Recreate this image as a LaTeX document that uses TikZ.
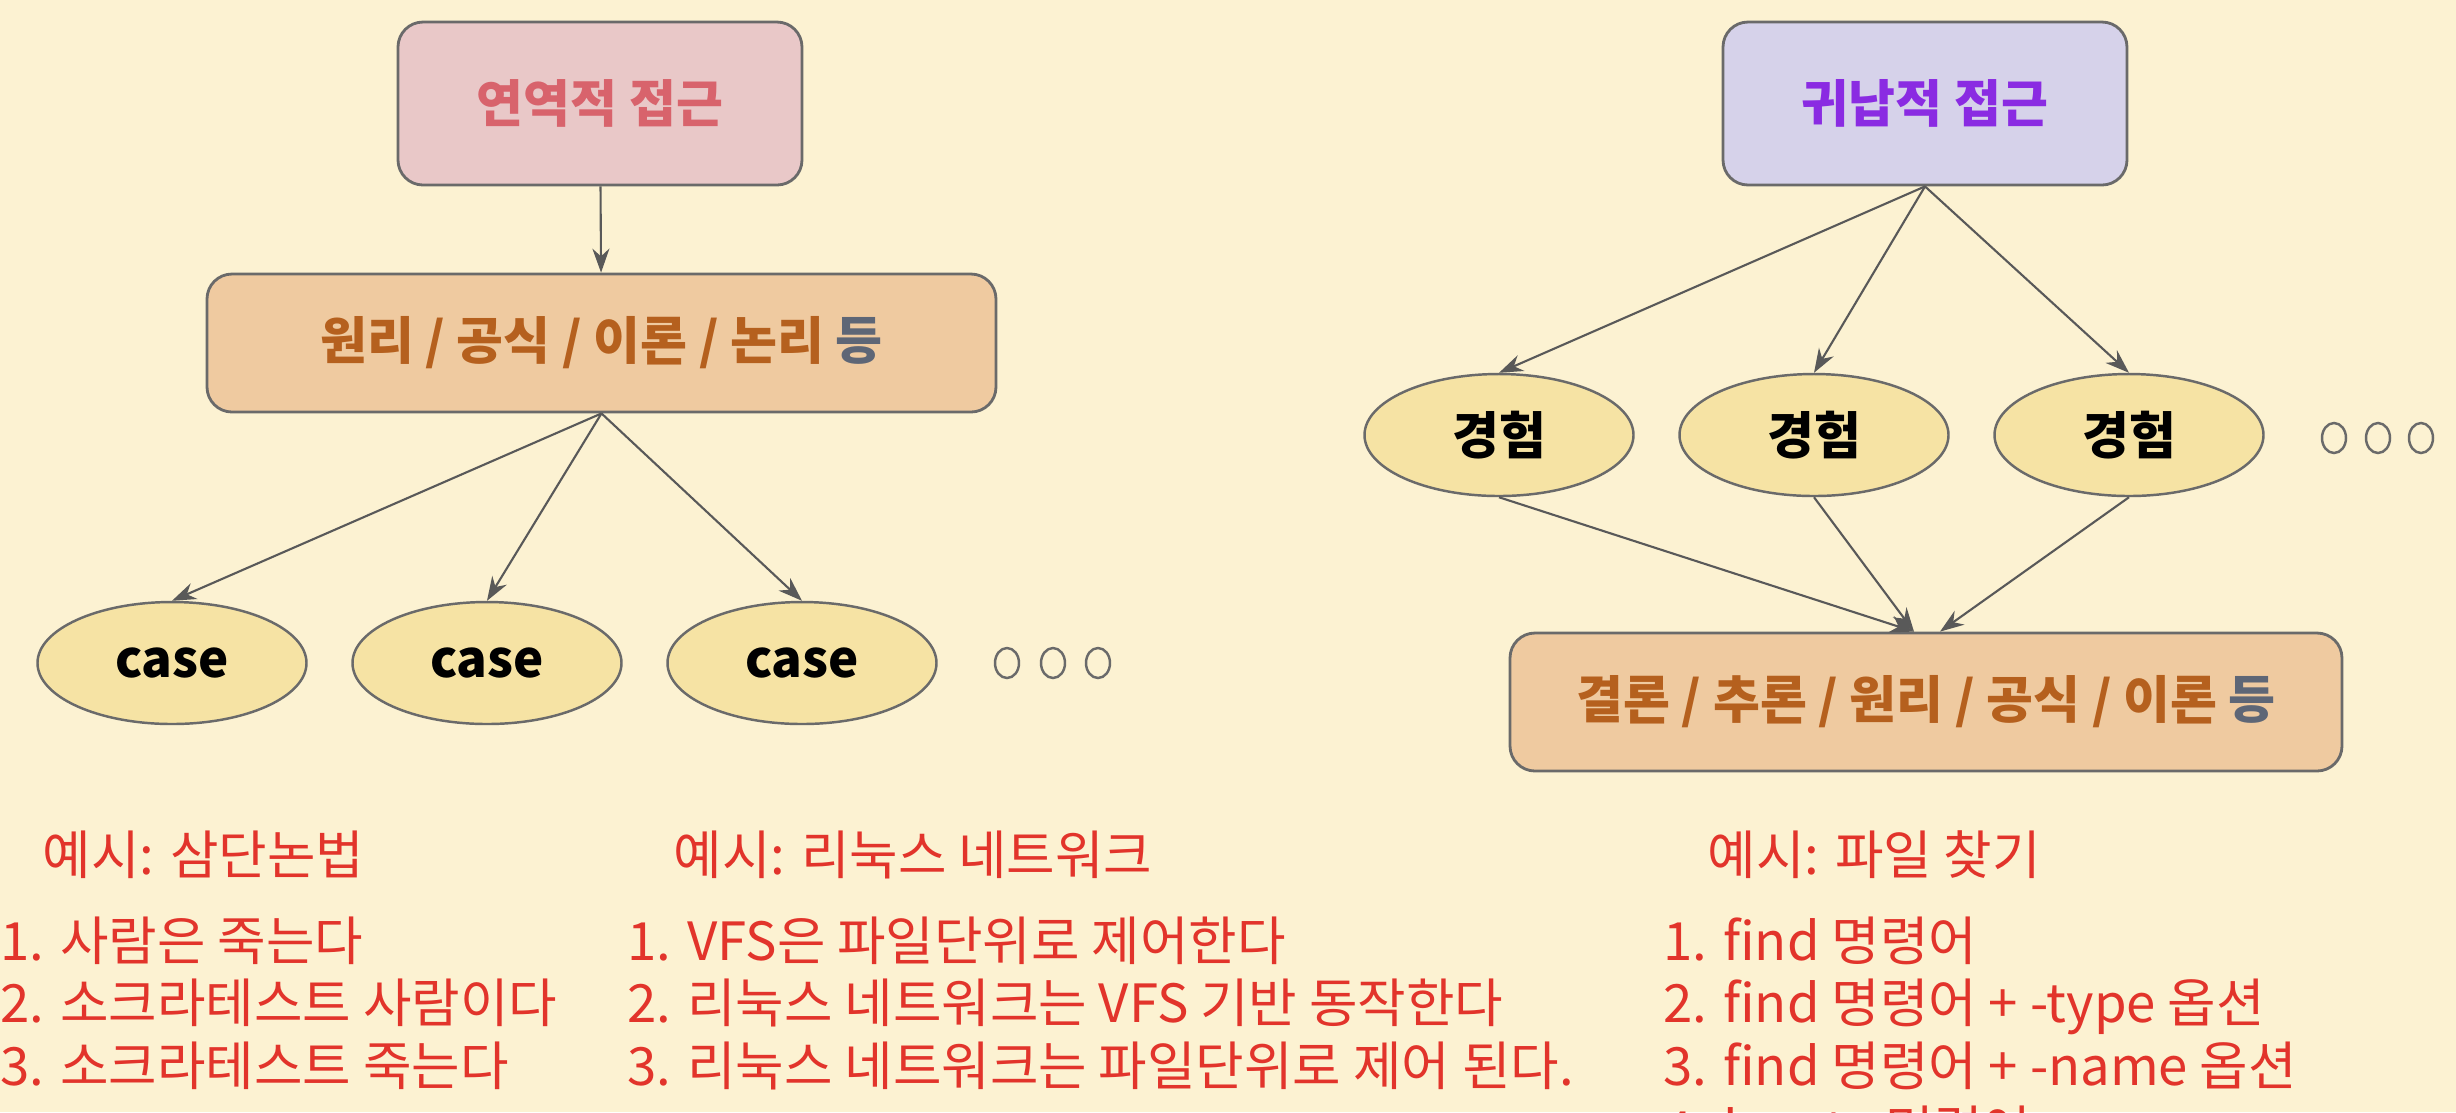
\documentclass[tikz,border=0pt]{standalone}
\usepackage{fontspec}
\setmainfont{Noto Sans CJK KR}
\usepackage{tikz}
\usetikzlibrary{shapes.geometric,arrows.meta}
\definecolor{bgcream}{HTML}{FCF2D2}
\definecolor{linegray}{HTML}{6A6A6A}
\definecolor{arrowgray}{HTML}{595959}
\definecolor{pinkfill}{HTML}{E9C8C8}
\definecolor{pinktext}{HTML}{D8636C}
\definecolor{peachfill}{HTML}{EFCAA0}
\definecolor{browntext}{HTML}{B5601E}
\definecolor{dunggray}{HTML}{5E6676}
\definecolor{lavfill}{HTML}{D6D2EA}
\definecolor{purpletext}{HTML}{8A2BE2}
\definecolor{ovalfill}{HTML}{F6E3A4}
\definecolor{exred}{HTML}{E2342B}

\tikzset{
  topbox/.style={draw=linegray,line width=0.8pt,rounded corners=2.5mm,
    minimum width=40.4mm,minimum height=16.3mm,
    font=\fontsize{14.5pt}{17pt}\selectfont\bfseries},
  widebox/.style={topbox,fill=peachfill,text=browntext,minimum height=13.8mm},
  caseoval/.style={ellipse,draw=linegray,line width=0.7pt,fill=ovalfill,
    minimum width=26.9mm,minimum height=12.2mm,inner sep=0pt,
    font=\fontsize{14.5pt}{17pt}\selectfont\bfseries},
  link/.style={->,draw=arrowgray,line width=0.6pt},
  example/.style={anchor=west,inner sep=0pt,text=exred,
    text height=0.85em,text depth=0.15em}
}

\begin{document}
\begin{tikzpicture}[x=0.1mm,y=-0.1mm,font=\fontsize{15pt}{18pt}\selectfont,
  >={Stealth[length=2.4mm,width=1.7mm]}]
  \useasboundingbox (0,0) rectangle (2456,1112);
  \clip (0,0) rectangle (2456,1112);
  \fill[bgcream] (0,0) rectangle (2456,1112);

  % deductive side
  \node[topbox,fill=pinkfill,text=pinktext] (deduct) at (600,103.5) {연역적 접근};
  \node[widebox,minimum width=78.9mm] (principle) at (601.5,343)
    {원리 / 공식 / 이론 / 논리 {\color{dunggray}등}};
  \foreach \i/\x in {1/172,2/487,3/802}
    \node[caseoval] (case\i) at (\x,663) {case};
  \foreach \x in {1007,1053,1098}
    \draw[linegray,line width=0.7pt] (\x,663) ellipse [x radius=12,y radius=15];
  \draw[link] (deduct) -- (principle);
  \foreach \i in {1,2,3}
    \draw[link] (principle.south) -- (case\i.north);

  % inductive side
  \node[topbox,fill=lavfill,text=purpletext] (induct) at (1925,103.5) {귀납적 접근};
  \foreach \i/\x in {1/1499,2/1814,3/2129}
    \node[caseoval] (exp\i) at (\x,435) {경험};
  \foreach \x in {2334,2378,2421}
    \draw[linegray,line width=0.7pt] (\x,438) ellipse [x radius=12,y radius=15];
  \node[widebox,minimum width=83.2mm] (conclusion) at (1926,702)
    {결론 / 추론 / 원리 / 공식 / 이론 {\color{dunggray}등}};
  \coordinate (inL) at ([xshift=-1.2mm]conclusion.north);
  \coordinate (inR) at ([xshift=1.4mm]conclusion.north);
  \foreach \i in {1,2,3}
    \draw[link] (induct.south) -- (exp\i.north);
  \draw[link] (exp1.south) -- (inL);
  \draw[link] (exp2.south) -- (inL);
  \draw[link] (exp3.south) -- (inR);

  % examples
  \node[example] (sylhead) at (42,862) {예시: 삼단논법};
  \foreach \t [count=\k] in {1. 사람은 죽는다, 2. 소크라테스트 사람이다, 3. 소크라테스트 죽는다}
    \node[example] (syl\k) at (0,{885.4+62.6*\k}) {\t};
  \node[example] (nethead) at (673,862) {예시: 리눅스 네트워크};
  \foreach \t [count=\k] in {1. VFS은 파일단위로 제어한다, 2. 리눅스 네트워크는 VFS 기반 동작한다, 3. 리눅스 네트워크는 파일단위로 제어 된다.}
    \node[example] (net\k) at (627,{885.4+62.6*\k}) {\t};
  \node[example] (findhead) at (1707,862) {예시: 파일 찾기};
  \foreach \t [count=\k] in {1. find 명령어, 2. find 명령어 + -type 옵션, 3. find 명령어 + -name 옵션}
    \node[example] (find\k) at (1663,{885.4+62.6*\k}) {\t};
  \node[example] (find4) at (1663,1137) {4. locate 명령어};
\end{tikzpicture}
\end{document}
